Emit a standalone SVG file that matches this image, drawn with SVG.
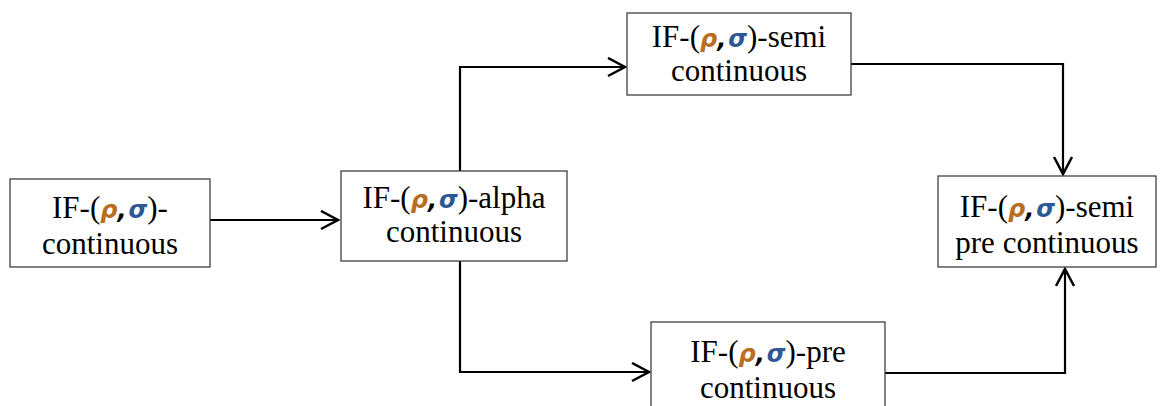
<svg xmlns="http://www.w3.org/2000/svg" width="1166" height="406" viewBox="0 0 1166 406">
<defs>
<style>
.box{fill:#fff;stroke:#404040;stroke-width:1.3}
.t{font-family:"Liberation Serif","Times New Roman",serif;font-size:31px;fill:#000;text-anchor:middle}
.g{font-family:"DejaVu Sans","Liberation Sans",sans-serif;font-style:oblique;font-weight:bold;font-size:24px}
.r{fill:#b86e22}
.s{fill:#2c5896}
.c{fill:none;stroke:#000;stroke-width:2.2}
</style>
<marker id="ah" markerWidth="22" markerHeight="22" refX="18" refY="10" orient="auto" markerUnits="userSpaceOnUse">
<path d="M1,1 L18,10 L1,19" fill="none" stroke="#000" stroke-width="2.5"/>
</marker>
</defs>
<rect width="1166" height="406" fill="#fff"/>
<g id="connectors">
<path class="c" d="M210,220 H338" marker-end="url(#ah)"/>
<path class="c" d="M460,171 V67 H625" marker-end="url(#ah)"/>
<path class="c" d="M460,261 V372 H649" marker-end="url(#ah)"/>
<path class="c" d="M851,64 H1063 V174" marker-end="url(#ah)"/>
<path class="c" d="M885,373 H1065 V269" marker-end="url(#ah)"/>
</g>
<g id="n1">
<rect class="box" x="10" y="179" width="200" height="88"/>
<text class="t" x="110" y="218">IF-(<tspan class="g r">ρ</tspan><tspan class="g">,</tspan><tspan class="g s" dx="2">σ</tspan>)-</text>
<text class="t" x="110" y="254">continuous</text>
</g>
<g id="n2">
<rect class="box" x="341" y="171" width="226" height="90"/>
<text class="t" x="454" y="208">IF-(<tspan class="g r">ρ</tspan><tspan class="g">,</tspan><tspan class="g s" dx="2">σ</tspan>)-alpha</text>
<text class="t" x="454" y="242">continuous</text>
</g>
<g id="n3">
<rect class="box" x="627" y="13" width="224" height="82"/>
<text class="t" x="739" y="47">IF-(<tspan class="g r">ρ</tspan><tspan class="g">,</tspan><tspan class="g s" dx="2">σ</tspan>)-semi</text>
<text class="t" x="739" y="81">continuous</text>
</g>
<g id="n4">
<rect class="box" x="938" y="176" width="218" height="91"/>
<text class="t" x="1047" y="217">IF-(<tspan class="g r">ρ</tspan><tspan class="g">,</tspan><tspan class="g s" dx="2">σ</tspan>)-semi</text>
<text class="t" x="1047" y="253">pre continuous</text>
</g>
<g id="n5">
<rect class="box" x="651" y="322" width="234" height="90"/>
<text class="t" x="768" y="362">IF-(<tspan class="g r">ρ</tspan><tspan class="g">,</tspan><tspan class="g s" dx="2">σ</tspan>)-pre</text>
<text class="t" x="768" y="398">continuous</text>
</g>
</svg>
